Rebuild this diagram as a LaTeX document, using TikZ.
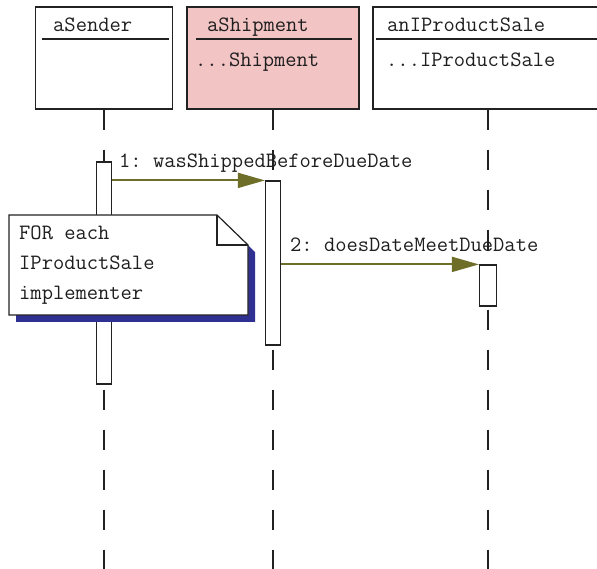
\documentclass[tikz,border=0pt]{standalone}
\usepackage{fontspec}
\usetikzlibrary{arrows.meta}
\definecolor{umlolive}{RGB}{110,110,40}
\definecolor{umlpink}{RGB}{242,196,196}
\definecolor{umlblue}{RGB}{46,49,146}
\definecolor{umlline}{RGB}{34,34,34}
\definecolor{umltext}{RGB}{30,30,30}
\tikzset{
  objbox/.style={draw=umlline,line width=1.2pt,minimum height=102pt,inner sep=0pt},
  lifeline/.style={draw=umlline,line width=1.2pt,dash pattern=on 20pt off 20pt},
  actbox/.style={draw=umlline,fill=white,line width=1.2pt,inner sep=0pt},
  msg/.style={draw=umlolive,line width=1.8pt,-{Triangle[length=27pt,width=15pt]}},
  lbl/.style={font=\frenchspacing\ttfamily\fontsize{21.9}{26}\selectfont,text=umltext,inner sep=0pt,anchor=base west},
}
\begin{document}
\begin{tikzpicture}[x=1pt,y=-1pt]
\useasboundingbox (0,0) rectangle (597,569);
%Objekte
\node[objbox,minimum width=137pt] (sender) at (104,58) {};
\node[objbox,minimum width=172pt,fill=umlpink] (shipment) at (273,58) {};
\node[objbox,minimum width=230pt] (sale) at (488,58) {};
\draw[umlline,line width=1.2pt] (42,39) -- (169,39);
\draw[umlline,line width=1.2pt] (196,39) -- (352,39);
\draw[umlline,line width=1.2pt] (376,39) -- (600,39);
\node[lbl] (sendername) at (53,32) {aSender};
\node[lbl] (shipmentname) at (207,32) {aShipment};
\node[lbl] (shipmenttype) at (195,67) {...Shipment};
\node[lbl] (salename) at (387,32) {anIProductSale};
\node[lbl] (saletype) at (386,67) {...IProductSale};
%Lebenslinien
\draw[lifeline] (sender.south) -- ++(0,460);
\draw[lifeline] (shipment.south) -- ++(0,460);
\draw[lifeline] (sale.south) -- ++(0,460);
%Aktivierungen
\node[actbox,minimum width=15pt,minimum height=222pt] (act1) at (104,273) {};
\node[actbox,minimum width=15pt,minimum height=164pt] (act2) at (273,263) {};
\node[actbox,minimum width=17pt,minimum height=41pt] (act3) at (488,285.5) {};
%Nachrichten
\draw[msg] (act2.north west -| act1.east) -- (act2.north west);
\draw[msg] (act3.north west -| act2.east) -- (act3.north west);
\node[lbl] (msg1) at (119,168) {1: wasShippedBeforeDueDate};
\node[lbl] (msg2) at (290,252) {2: doesDateMeetDueDate};
%Notiz
\fill[umlblue] (16,222) -- (224,222) -- (255,252) -- (255,322) -- (16,322) -- cycle;
\draw[umlline,fill=white,line width=1.2pt] (9,215) -- (217,215) -- (248,245) -- (248,315) -- (9,315) -- cycle;
\draw[umlline,line width=1.2pt] (217,215) -- (217,245) -- (248,245);
\foreach \txt [count=\i] in {FOR each,IProductSale,implementer}
  \node[lbl] (note\i) at (19,210+30*\i) {\txt};
\end{tikzpicture}
\end{document}
